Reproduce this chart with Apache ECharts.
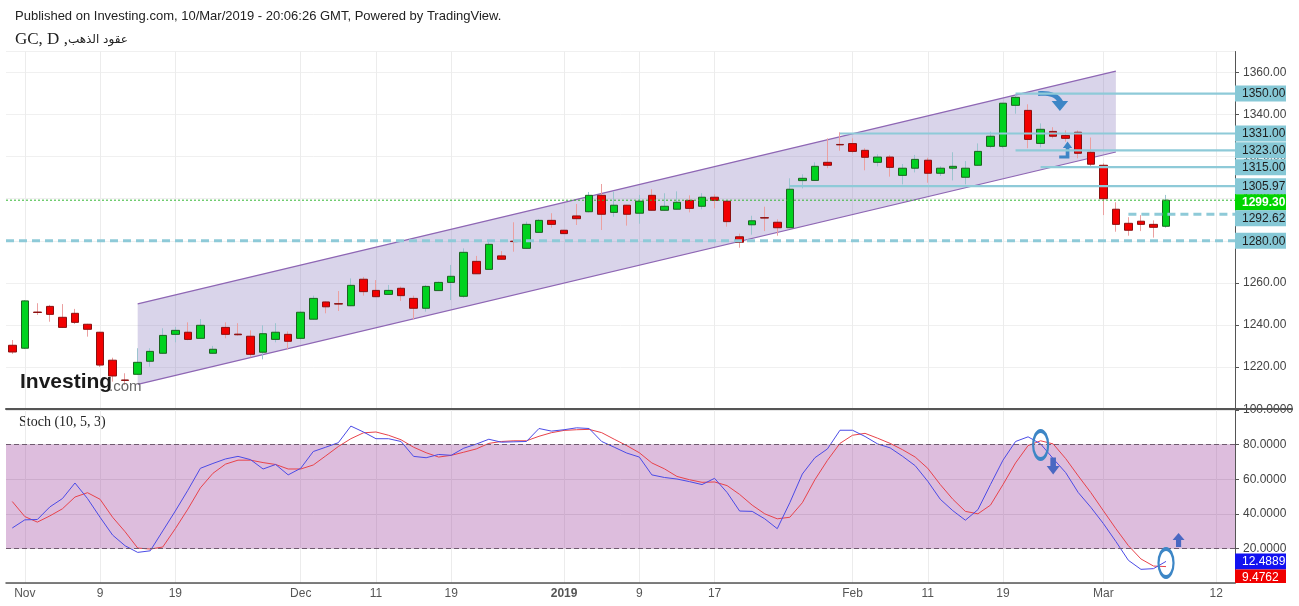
<!DOCTYPE html>
<html>
<head>
<meta charset="utf-8">
<script src="https://cdn.jsdelivr.net/npm/echarts@6/dist/echarts.min.js"></script>
<style>
  html, body { margin: 0; padding: 0; background: #fff; }
  #chart { width: 1299px; height: 606px; }
</style>
</head>
<body>
<div id="chart"></div>
<script>
// trading days (TradingView also keeps holiday bars, and counts calendar days in the future area)
const dates = [
  '2018-10-31', '2018-11-01', '2018-11-02', '2018-11-05', '2018-11-06', '2018-11-07', '2018-11-08', '2018-11-09',
  '2018-11-12', '2018-11-13', '2018-11-14', '2018-11-15', '2018-11-16', '2018-11-19', '2018-11-20', '2018-11-21',
  '2018-11-22', '2018-11-23', '2018-11-26', '2018-11-27', '2018-11-28', '2018-11-29', '2018-11-30', '2018-12-03',
  '2018-12-04', '2018-12-05', '2018-12-06', '2018-12-07', '2018-12-10', '2018-12-11', '2018-12-12', '2018-12-13',
  '2018-12-14', '2018-12-17', '2018-12-18', '2018-12-19', '2018-12-20', '2018-12-21', '2018-12-24', '2018-12-25',
  '2018-12-26', '2018-12-27', '2018-12-28', '2018-12-31', '2019-01-01', '2019-01-02', '2019-01-03', '2019-01-04',
  '2019-01-07', '2019-01-08', '2019-01-09', '2019-01-10', '2019-01-11', '2019-01-14', '2019-01-15', '2019-01-16',
  '2019-01-17', '2019-01-18', '2019-01-21', '2019-01-22', '2019-01-23', '2019-01-24', '2019-01-25', '2019-01-28',
  '2019-01-29', '2019-01-30', '2019-01-31', '2019-02-01', '2019-02-04', '2019-02-05', '2019-02-06', '2019-02-07',
  '2019-02-08', '2019-02-11', '2019-02-12', '2019-02-13', '2019-02-14', '2019-02-15', '2019-02-18', '2019-02-19',
  '2019-02-20', '2019-02-21', '2019-02-22', '2019-02-25', '2019-02-26', '2019-02-27', '2019-02-28', '2019-03-01',
  '2019-03-04', '2019-03-05', '2019-03-06', '2019-03-07', '2019-03-08', '2019-03-09', '2019-03-10', '2019-03-11',
  '2019-03-12', '2019-03-13'
];

const tickDates = ['2018-11-01', '2018-11-09', '2018-11-19', '2018-12-03', '2018-12-11', '2018-12-19', '2019-01-01',
  '2019-01-09', '2019-01-17', '2019-02-01', '2019-02-11', '2019-02-19', '2019-03-01', '2019-03-12'];
const tickTexts = ['Nov', '9', '19', 'Dec', '11', '19', '2019', '9', '17', 'Feb', '11', '19', 'Mar', '12'];

const openP = [
  1230.3, 1228.9, 1246.1, 1248.8, 1243.6, 1245.5, 1240.3, 1236.5, 1223.2, 1213.8,
  1216.5, 1222.7, 1226.5, 1235.5, 1236.5, 1233.6, 1226.5, 1238.8, 1235.6, 1234.6,
  1227.0, 1233.1, 1235.5, 1233.6, 1242.7, 1250.9, 1250.1, 1249.1, 1261.7, 1256.4,
  1254.5, 1257.4, 1252.6, 1247.9, 1256.3, 1260.2, 1253.6, 1270.2, 1266.4, 1272.8,
  1279.8, 1276.4, 1284.0, 1289.7, 1285.0, 1291.8, 1293.8, 1301.6, 1293.5, 1296.9,
  1293.1, 1301.6, 1294.5, 1295.0, 1299.2, 1296.4, 1300.7, 1298.8, 1281.9, 1287.6,
  1291.0, 1288.8, 1286.2, 1308.6, 1308.7, 1317.3, 1325.8, 1326.2, 1323.0, 1317.3,
  1319.8, 1311.1, 1314.5, 1318.3, 1312.1, 1314.5, 1310.2, 1315.9, 1324.9, 1324.9,
  1344.4, 1342.0, 1326.3, 1332.0, 1330.1, 1331.6, 1322.1, 1315.9, 1295.0, 1288.3,
  1289.3, 1287.8, 1286.9
];
const closeP = [
  1227.1, 1251.4, 1245.9, 1245.0, 1238.8, 1241.2, 1237.9, 1220.9, 1215.7, 1213.6,
  1222.2, 1227.4, 1235.0, 1237.4, 1233.1, 1239.8, 1228.4, 1235.5, 1235.3, 1226.0,
  1235.8, 1236.5, 1232.2, 1246.0, 1252.6, 1248.6, 1249.9, 1258.8, 1255.8, 1253.4,
  1256.4, 1253.9, 1247.9, 1258.3, 1260.2, 1263.1, 1274.5, 1264.3, 1278.3, 1271.2,
  1279.6, 1287.8, 1289.7, 1287.8, 1283.4, 1290.5, 1301.6, 1292.6, 1296.9, 1292.6,
  1298.8, 1294.5, 1296.4, 1298.3, 1295.4, 1300.7, 1299.2, 1289.1, 1279.3, 1289.5,
  1290.8, 1286.2, 1304.5, 1309.7, 1315.4, 1315.9, 1325.6, 1322.5, 1319.7, 1319.8,
  1314.9, 1314.5, 1318.7, 1312.1, 1314.5, 1315.4, 1314.5, 1322.5, 1329.7, 1345.4,
  1348.2, 1328.2, 1333.0, 1329.7, 1328.7, 1321.6, 1316.4, 1300.0, 1287.8, 1285.0,
  1287.8, 1286.4, 1299.3
];
const lowP = [
  1226.2, 1228.5, 1244.7, 1241.5, 1238.5, 1240.4, 1234.4, 1220.0, 1213.0, 1211.4,
  1216.3, 1220.1, 1226.3, 1231.7, 1232.7, 1233.5, 1226.3, 1233.6, 1234.9, 1224.6,
  1223.6, 1231.7, 1228.4, 1233.0, 1242.5, 1245.5, 1246.6, 1248.9, 1253.9, 1253.2,
  1254.3, 1251.4, 1242.8, 1246.3, 1256.1, 1251.8, 1252.9, 1264.2, 1266.3, 1271.0,
  1274.8, 1276.2, 1283.8, 1286.2, 1283.2, 1287.5, 1293.5, 1285.1, 1291.4, 1287.2,
  1288.1, 1294.3, 1294.3, 1294.8, 1293.5, 1295.0, 1295.4, 1286.7, 1276.7, 1282.9,
  1284.6, 1282.4, 1286.0, 1304.9, 1308.5, 1314.5, 1322.8, 1321.6, 1313.5, 1315.4,
  1310.5, 1306.8, 1312.5, 1307.6, 1310.8, 1308.7, 1306.8, 1315.7, 1324.0, 1324.0,
  1340.4, 1324.0, 1324.4, 1328.7, 1327.1, 1319.2, 1314.7, 1292.2, 1284.3, 1282.4,
  1284.6, 1281.5, 1286.2
];
const highP = [
  1232.8, 1251.8, 1250.3, 1249.5, 1249.9, 1247.6, 1240.5, 1236.7, 1224.4, 1217.0,
  1228.9, 1228.9, 1238.4, 1239.0, 1241.2, 1242.8, 1230.0, 1241.2, 1240.8, 1237.4,
  1239.8, 1240.8, 1236.9, 1246.5, 1253.9, 1251.2, 1256.1, 1262.1, 1262.8, 1261.3,
  1259.0, 1258.2, 1253.9, 1259.0, 1260.6, 1268.5, 1276.4, 1272.8, 1279.6, 1275.1,
  1288.8, 1289.1, 1290.3, 1293.1, 1285.2, 1297.5, 1303.2, 1307.0, 1303.5, 1297.1,
  1301.8, 1304.5, 1302.6, 1303.5, 1301.6, 1302.6, 1302.1, 1299.0, 1283.4, 1291.9,
  1296.2, 1290.2, 1309.7, 1311.6, 1317.3, 1328.7, 1331.6, 1328.7, 1324.0, 1321.1,
  1320.8, 1316.5, 1320.8, 1319.5, 1315.4, 1322.1, 1317.9, 1326.3, 1331.9, 1345.6,
  1349.3, 1344.9, 1335.8, 1334.0, 1332.5, 1332.5, 1329.1, 1316.8, 1298.3, 1291.2,
  1292.2, 1289.7, 1301.8
];

// Stoch (10, 5, 3): %K and %D
const stochK = [
  31.8, 36.5, 36.7, 44.0, 48.8, 57.8, 48.8, 38.0, 27.7, 21.5,
  17.7, 18.6, 30.1, 41.6, 53.6, 66.3, 69.1, 71.7, 73.2, 71.3,
  65.9, 68.5, 62.5, 66.3, 76.0, 78.5, 81.1, 90.7, 87.3, 83.4,
  83.4, 81.8, 73.2, 72.4, 74.3, 73.8, 77.9, 80.3, 83.1, 81.4,
  81.6, 81.8, 89.3, 87.8, 88.6, 89.7, 89.3, 81.8, 78.5, 75.1,
  72.8, 62.5, 61.0, 60.1, 58.6, 56.9, 60.5, 52.3, 41.6, 41.4,
  37.1, 31.4, 46.4, 63.0, 72.4, 77.5, 88.3, 88.3, 84.7, 80.4,
  78.1, 73.2, 67.8, 58.8, 48.4, 41.8, 36.3, 42.4, 56.9, 71.0,
  81.8, 84.5, 80.4, 71.9, 63.8, 52.3, 43.8, 34.4, 24.0, 13.1,
  7.9, 8.3, 12.4889
];
const stochD = [
  47.1, 38.4, 35.2, 38.8, 42.9, 49.7, 52.2, 48.4, 38.0, 29.6,
  20.2, 19.6, 20.8, 31.4, 42.7, 55.0, 63.4, 68.7, 71.0, 71.0,
  69.6, 68.5, 65.9, 65.9, 68.2, 73.5, 78.9, 83.4, 86.8, 87.3,
  85.4, 82.8, 78.5, 75.3, 72.8, 73.8, 75.6, 77.5, 80.7, 81.8,
  82.2, 82.2, 84.8, 86.9, 88.2, 88.6, 88.8, 86.9, 83.1, 79.4,
  75.3, 69.4, 66.0, 61.6, 59.7, 58.2, 58.4, 56.3, 51.2, 45.0,
  40.0, 37.1, 38.0, 46.4, 59.7, 70.9, 80.7, 85.4, 86.5, 83.7,
  80.7, 77.0, 72.8, 66.3, 56.9, 48.4, 41.4, 40.0, 45.0, 56.9,
  69.4, 79.4, 82.2, 80.4, 71.9, 61.9, 52.3, 41.8, 31.4, 21.6,
  13.9, 9.8, 9.4762
];

// drawn levels and the rising channel
const levelValues = [1350, 1331, 1323, 1315, 1305.97, 1292.62, 1280];
const levelFrom = ['2019-02-20', '2019-01-31', '2019-02-20', '2019-02-22', '2019-01-25', '2019-03-05', '2018-10-31'];
const channelDates = ['2018-11-14', '2019-03-04'];
const channelTop = [1250.0, 1360.7];
const channelBottom = [1211.7, 1322.2];

// hand-drawn marks: [date, value]
const priceCurvedArrow = ['2019-02-25', 1346.5];
const priceBentArrow = ['2019-02-26', 1323.2];
const stochCircles = [['2019-02-22', 79.8], ['2019-03-08', 11.6]];
const stochDownArrow = ['2019-02-25', 67.6];
const stochUpArrow = ['2019-03-09', 24.9];

const lastClose = closeP[closeP.length - 1];
const idx = d => dates.indexOf(d);
const isTick = (i, v) => tickDates.indexOf(v) >= 0;

const FONT = '"Liberation Sans", Arial, sans-serif';
const SERIF = '"Liberation Serif", "DejaVu Serif", serif';
const AXIS_GREY = '#555';

const chart = echarts.init(document.getElementById('chart'));

const candleCount = openP.length;
const wickData = [];
const bodyData = [];
for (let i = 0; i < candleCount; i++) {
  wickData.push([openP[i], closeP[i], lowP[i], highP[i]]);
  bodyData.push([openP[i], closeP[i], Math.min(openP[i], closeP[i]), Math.max(openP[i], closeP[i])]);
}

// price boxes on the right axis, pushed apart like TradingView does
const axisBoxes = (api, cs, items, clip) => {
  const right = cs.x + cs.width;
  items.forEach(it => { it.y = api.coord([0, it.v])[1]; });
  items.sort((a, b) => a.y - b.y);
  for (let i = 1; i < items.length; i++) {
    if (items[i].y - items[i - 1].y < 16) items[i].y = items[i - 1].y + 16;
  }
  const children = [];
  items.forEach(it => {
    children.push({
      type: 'rect',
      shape: { x: right, y: it.y - 8, width: 51, height: 16 },
      style: { fill: it.bg }
    });
    children.push({
      type: 'text',
      x: right + 7,
      y: it.y + 0.5,
      style: {
        text: it.text, fill: it.fg, verticalAlign: 'middle', align: 'left',
        font: (it.bold ? 'bold ' : '') + '12px ' + FONT
      }
    });
  });
  const group = { type: 'group', children: children };
  if (clip) {
    group.clipPath = { type: 'rect', shape: { x: 0, y: 0, width: api.getWidth(), height: cs.y + cs.height } };
  }
  return group;
};

const option = {
  animation: false,
  backgroundColor: '#fff',
  textStyle: { fontFamily: FONT },
  grid: [
    { left: 6, right: 64, top: 51.5, height: 357.5 },
    { left: 6, right: 64, top: 410, height: 173 }
  ],
  xAxis: [
    {
      type: 'category', gridIndex: 0, data: dates, boundaryGap: true,
      axisLine: { lineStyle: { color: AXIS_GREY, width: 2 } },
      axisTick: { show: false },
      axisLabel: { show: false },
      splitLine: { show: true, interval: isTick, alignWithLabel: true, lineStyle: { color: '#ececec' } }
    },
    {
      type: 'category', gridIndex: 1, data: dates, boundaryGap: true,
      axisLine: { lineStyle: { color: AXIS_GREY, width: 1.5 } },
      axisTick: { show: false },
      axisLabel: {
        interval: isTick, color: '#555', fontSize: 12, margin: 5,
        formatter: v => {
          const t = tickTexts[tickDates.indexOf(v)] || '';
          return /^\d{4}$/.test(t) ? '{b|' + t + '}' : t;
        },
        rich: { b: { fontWeight: 'bold', color: '#555', fontSize: 12 } }
      },
      splitLine: { show: true, interval: isTick, alignWithLabel: true, lineStyle: { color: '#ececec' } }
    }
  ],
  yAxis: [
    {
      type: 'value', gridIndex: 0, position: 'right', min: 1200, max: 1370, interval: 20,
      axisLine: { show: true, lineStyle: { color: AXIS_GREY } },
      axisTick: { show: true, length: 4, lineStyle: { color: AXIS_GREY } },
      axisLabel: { formatter: v => v.toFixed(2), color: '#444', fontSize: 12, margin: 8, showMinLabel: false, showMaxLabel: false },
      splitLine: { lineStyle: { color: '#f0f0f0' } }
    },
    {
      type: 'value', gridIndex: 1, position: 'right', min: 0, max: 100, interval: 20,
      axisLine: { show: true, lineStyle: { color: AXIS_GREY } },
      axisTick: { show: true, length: 4, lineStyle: { color: AXIS_GREY } },
      axisLabel: { formatter: v => v.toFixed(4), color: '#444', fontSize: 12, margin: 8, showMinLabel: false },
      splitLine: { lineStyle: { color: '#e6e6e6' } }
    }
  ],
  graphic: [
    { type: 'text', left: 15, top: 10, style: { text: 'Published on Investing.com, 10/Mar/2019 - 20:06:26 GMT, Powered by TradingView.', font: '13px ' + FONT, fill: '#222' } },
    {
      type: 'text', left: 15, top: 31,
      style: {
        text: '{a|GC, D ,}{b|عقود الذهب}', fill: '#222',
        rich: {
          a: { fontFamily: SERIF, fontSize: 17, color: '#222' },
          b: { fontFamily: '"DejaVu Sans", sans-serif', fontSize: 12, color: '#222' }
        }
      }
    },
    { type: 'text', left: 19, top: 415, style: { text: 'Stoch (10, 5, 3)', font: '14px ' + SERIF, fill: '#222' } },
    { type: 'text', left: 20, top: 372, z: 20, style: { text: 'Investing', font: 'bold 21px ' + FONT, fill: '#1a1a1a' } },
    { type: 'text', left: 109, top: 379, z: 20, style: { text: '.com', font: '15px ' + FONT, fill: '#666' } },
    // pane separator continues under the price scale
    { type: 'line', z: 20, shape: { x1: 1235, y1: 409, x2: 1293, y2: 409 }, style: { stroke: AXIS_GREY, lineWidth: 2 } }
  ],
  series: [
    {
      // rising channel
      type: 'custom', xAxisIndex: 0, yAxisIndex: 0, z: 1, silent: true,
      data: [[idx(channelDates[0]), channelTop[0], channelBottom[0], idx(channelDates[1]), channelTop[1], channelBottom[1]]],
      renderItem: (params, api) => {
        const a = api.coord([api.value(0), api.value(1)]);
        const b = api.coord([api.value(3), api.value(4)]);
        const c = api.coord([api.value(3), api.value(5)]);
        const d = api.coord([api.value(0), api.value(2)]);
        return {
          type: 'group',
          children: [
            { type: 'polygon', shape: { points: [a, b, c, d] }, style: { fill: 'rgba(120,100,180,0.28)' } },
            { type: 'line', shape: { x1: a[0], y1: a[1], x2: b[0], y2: b[1] }, style: { stroke: '#8e66b4', lineWidth: 1.2 } },
            { type: 'line', shape: { x1: d[0], y1: d[1], x2: c[0], y2: c[1] }, style: { stroke: '#8e66b4', lineWidth: 1.2 } }
          ]
        };
      }
    },
    {
      name: 'wick', type: 'candlestick', xAxisIndex: 0, yAxisIndex: 0, z: 3, silent: true,
      barWidth: 1, data: wickData,
      itemStyle: { color: '#9cc4cf', color0: '#eba0a0', borderColor: '#9cc4cf', borderColor0: '#eba0a0', borderWidth: 1 }
    },
    {
      name: 'GC', type: 'candlestick', xAxisIndex: 0, yAxisIndex: 0, z: 4, silent: true,
      barWidth: 8, data: bodyData,
      itemStyle: { color: '#00d21f', color0: '#f20000', borderColor: '#1b6320', borderColor0: '#8a1010', borderWidth: 1 },
      markPoint: {
        silent: true, label: { show: false },
        data: [
          {
            coord: [idx(priceCurvedArrow[0]), priceCurvedArrow[1]], symbolSize: [30, 20],
            symbol: 'path://M0,0 C9,-1 20,1 24,10 L29,10 L21,20 L13,10 L18,10 C16,6 9,4 0,5 Z',
            itemStyle: { color: '#3d86c6' }
          },
          {
            coord: [idx(priceBentArrow[0]), priceBentArrow[1]], symbolSize: [13, 17],
            symbol: 'path://M0,15 L7,15 L7,7 L4,7 L9,0 L14,7 L11,7 L11,18 L0,18 Z',
            itemStyle: { color: '#3d86c6' }
          }
        ]
      }
    },
    {
      // drawn horizontal levels
      type: 'custom', xAxisIndex: 0, yAxisIndex: 0, z: 5, silent: true,
      data: levelValues.map((v, i) => [idx(levelFrom[i]), v]),
      renderItem: (params, api) => {
        const cs = params.coordSys;
        const p = api.coord([api.value(0), api.value(1)]);
        const x0 = api.value(0) === 0 ? cs.x : p[0];
        const dashed = api.value(1) < lastClose;
        return {
          type: 'line',
          shape: { x1: x0, y1: p[1], x2: cs.x + cs.width, y2: p[1] },
          style: { stroke: '#8ecad8', lineWidth: dashed ? 3 : 2.2, lineDash: dashed ? [8, 5] : null }
        };
      }
    },
    {
      // last price line and the right-hand price boxes
      type: 'custom', xAxisIndex: 0, yAxisIndex: 0, z: 10, silent: true,
      data: [[0, lastClose]],
      renderItem: (params, api) => {
        const cs = params.coordSys;
        const y = api.coord([0, lastClose])[1];
        const items = levelValues.map(v => ({ v: v, text: v.toFixed(2), bg: '#86c8d6', fg: '#1e1e1e', bold: false }));
        items.push({ v: lastClose, text: lastClose.toFixed(2), bg: '#00d400', fg: '#fff', bold: true });
        const boxes = axisBoxes(api, cs, items, false);
        return {
          type: 'group',
          children: [
            { type: 'line', shape: { x1: cs.x, y1: y, x2: cs.x + cs.width, y2: y }, style: { stroke: '#2fb52f', lineWidth: 1, lineDash: [2, 2] } },
            boxes
          ]
        };
      }
    },
    {
      // overbought / oversold band
      type: 'line', xAxisIndex: 1, yAxisIndex: 1, data: [], z: 1, silent: true,
      markArea: {
        silent: true,
        itemStyle: { color: 'rgba(150,50,150,0.32)' },
        data: [[{ yAxis: 20 }, { yAxis: 80 }]]
      },
      markLine: {
        silent: true, symbol: 'none', label: { show: false },
        lineStyle: { color: '#6f5a6f', type: [5, 3], width: 1 },
        data: [{ yAxis: 20 }, { yAxis: 80 }]
      }
    },
    {
      name: '%K', type: 'line', xAxisIndex: 1, yAxisIndex: 1, z: 4, silent: true,
      data: stochK, symbol: 'none', lineStyle: { color: '#4b4be6', width: 1 },
      markPoint: {
        silent: true, label: { show: false },
        data: stochCircles.map(c => ({
          coord: [idx(c[0]), c[1]], symbol: 'circle', symbolSize: [15, 28],
          itemStyle: { color: 'rgba(0,0,0,0)', borderColor: '#3d86c6', borderWidth: 3 }
        })).concat([
          {
            coord: [idx(stochDownArrow[0]), stochDownArrow[1]], symbolSize: [13, 17],
            symbol: 'path://M4,0 L10,0 L10,9 L14,9 L7,18 L0,9 L4,9 Z',
            itemStyle: { color: '#4a68c2' }
          },
          {
            coord: [idx(stochUpArrow[0]), stochUpArrow[1]], symbolSize: [12, 14],
            symbol: 'path://M7,0 L14,7 L10,7 L10,14 L4,14 L4,7 L0,7 Z',
            itemStyle: { color: '#4a68c2' }
          }
        ])
      }
    },
    {
      name: '%D', type: 'line', xAxisIndex: 1, yAxisIndex: 1, z: 3, silent: true,
      data: stochD, symbol: 'none', lineStyle: { color: '#e8434b', width: 1 }
    },
    {
      // last %K / %D boxes on the stoch axis
      type: 'custom', xAxisIndex: 1, yAxisIndex: 1, z: 10, silent: true,
      data: [[0, stochK[stochK.length - 1]]],
      renderItem: (params, api) => {
        const items = [
          { v: stochK[stochK.length - 1], text: stochK[stochK.length - 1].toFixed(4), bg: '#1212f0', fg: '#fff', bold: false },
          { v: stochD[stochD.length - 1], text: stochD[stochD.length - 1].toFixed(4), bg: '#f00000', fg: '#fff', bold: false }
        ];
        return axisBoxes(api, params.coordSys, items, true);
      }
    }
  ]
};

chart.setOption(option);
</script>
</body>
</html>
